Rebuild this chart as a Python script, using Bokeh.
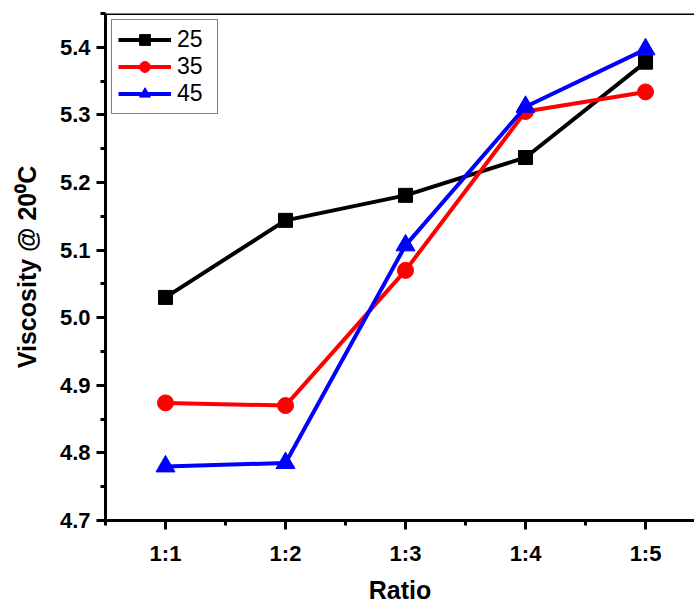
from bokeh.plotting import figure
from bokeh.models import FixedTicker, SingleIntervalTicker, Range1d, Legend, LegendItem, Span, CustomJSTickFormatter
from bokeh.embed import file_html
from bokeh.resources import INLINE

categories = ["1:1", "1:2", "1:3", "1:4", "1:5"]
v25 = [5.030, 5.144, 5.181, 5.237, 5.378]
v35 = [4.874, 4.870, 5.070, 5.305, 5.334]
v45 = [4.780, 4.785, 5.107, 5.312, 5.397]
xs = list(range(1, len(categories) + 1))

FONT = "Liberation Sans"

p = figure(frame_width=589, frame_height=507, output_backend="svg", toolbar_location=None,
           x_range=Range1d(0.5, 5.408), y_range=Range1d(4.7, 5.45),
           min_border_left=105, min_border_right=0, min_border_top=13, min_border_bottom=0)
p.grid.visible = False
p.outline_line_color = None
p.background_fill_color = "white"
p.border_fill_color = "white"

for ax in [p.xaxis[0], p.yaxis[0]]:
    ax.axis_line_width = 3
    ax.axis_line_color = "black"
    ax.major_tick_line_width = 3
    ax.minor_tick_line_width = 3
    ax.major_tick_out = 9
    ax.major_tick_in = 0
    ax.minor_tick_out = 5
    ax.minor_tick_in = 0
    ax.major_label_text_font = FONT
    ax.major_label_text_font_style = "bold"
    ax.major_label_text_font_size = "22px"
    ax.major_label_text_color = "black"
    ax.axis_label_text_font = FONT
    ax.axis_label_text_font_style = "bold"
    ax.axis_label_text_font_size = "25px"
    ax.axis_label_text_color = "black"

p.xaxis.ticker = FixedTicker(ticks=xs, minor_ticks=[x - 0.5 for x in xs] + [5.5])
p.xaxis.major_label_overrides = {x: c for x, c in zip(xs, categories)}
p.xaxis.axis_label = "Ratio"
p.xaxis.major_label_standoff = 11
p.xaxis.axis_label_standoff = 7

p.yaxis.ticker = SingleIntervalTicker(interval=0.1, num_minor_ticks=2)
p.yaxis.axis_label = "Viscosity @ 20\u2070C"
p.yaxis.major_label_standoff = 6
p.yaxis.axis_label_standoff = 16
p.yaxis.formatter = CustomJSTickFormatter(code="return tick.toFixed(1);")

p.add_layout(Span(location=5.45, dimension="width", line_color="black", line_width=3))

l1 = p.line(xs, v25, line_color="black", line_width=4)
m1 = p.scatter(xs, v25, marker="square", size=14, fill_color="black", line_color="black")
l2 = p.line(xs, v35, line_color="red", line_width=4)
m2 = p.scatter(xs, v35, marker="circle", size=16, fill_color="red", line_color="red")
l3 = p.line(xs, v45, line_color="blue", line_width=4)
m3 = p.scatter(xs, v45, marker="triangle", size=19, fill_color="blue", line_color="blue")

legend = Legend(items=[LegendItem(label="25", renderers=[l1, m1]),
                       LegendItem(label="35", renderers=[l2, m2]),
                       LegendItem(label="45", renderers=[l3, m3])],
                location="top_left", orientation="vertical")
legend.label_text_font = FONT
legend.label_text_font_size = "23px"
legend.label_text_color = "black"
legend.border_line_color = "black"
legend.border_line_width = 1
legend.glyph_width = 53
legend.glyph_height = 27
legend.label_height = 24
legend.label_width = 34
legend.spacing = 0
legend.padding = 6
legend.margin = 6
legend.label_standoff = 6
legend.background_fill_alpha = 1
p.add_layout(legend, "center")

open("out.html", "w").write(file_html(p, INLINE))
